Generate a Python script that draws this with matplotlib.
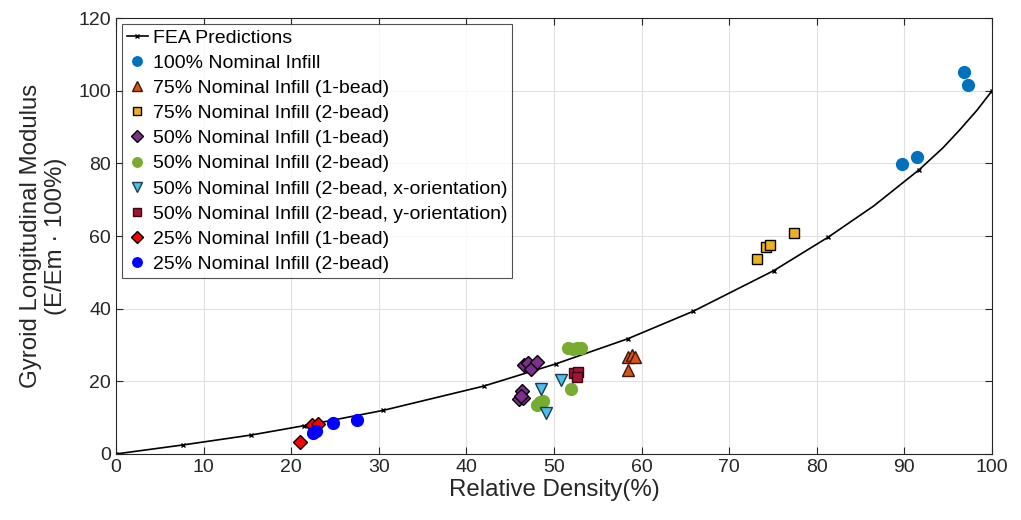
import numpy as np
import matplotlib.pyplot as plt

plt.rcParams['font.family'] = ['Liberation Sans', 'DejaVu Sans']

# FEA prediction curve and the points carrying markers
fea_x = [0, 7.7, 15.4, 21.5, 30.5, 42.0, 50.2, 58.4, 65.9, 75.1, 81.3, 86.5, 91.7, 94.4, 96.3, 98.3, 100]
fea_y = [0, 2.5, 5.2, 7.8, 12.0, 18.7, 24.8, 31.7, 39.3, 50.5, 59.7, 68.3, 78.3, 84.3, 89.2, 94.7, 100]
fea_marks = [0, 1, 2, 3, 4, 5, 6, 7, 8, 9, 10, 12, 16]

inf100_x = [96.8, 97.3, 89.7, 91.4]
inf100_y = [105.3, 101.5, 79.8, 81.9]

inf75_1_x = [58.4, 58.9, 59.3, 58.4]
inf75_1_y = [26.6, 27.2, 26.7, 23.1]

inf75_2_x = [73.2, 74.2, 74.7, 77.4]
inf75_2_y = [53.8, 56.9, 57.5, 60.8]

inf50_1_x = [46.6, 47.0, 47.4, 48.1, 46.4, 46.0, 46.5, 46.2]
inf50_1_y = [24.6, 25.1, 23.5, 25.4, 17.3, 15.1, 15.3, 16.0]

inf50_2_x = [51.6, 52.2, 52.6, 53.1, 51.9, 48.1, 48.4, 48.8]
inf50_2_y = [29.3, 28.8, 29.3, 29.3, 17.9, 13.5, 14.2, 14.6]

inf50_x_x = [48.5, 50.8, 49.1]
inf50_x_y = [18.0, 20.3, 11.2]

inf50_y_x = [52.3, 52.7, 52.6]
inf50_y_y = [22.3, 22.6, 21.3]

inf25_1_x = [21.0, 22.4, 23.1]
inf25_1_y = [3.4, 8.0, 8.2]

inf25_2_x = [22.5, 22.8, 24.8, 27.5]
inf25_2_y = [5.9, 6.3, 8.6, 9.4]

fig = plt.figure(figsize=(10.21, 5.2), dpi=100)
ax = fig.add_axes([0.1136, 0.127, 0.858, 0.838])

ax.plot(fea_x, fea_y, color='black', linewidth=1.2, marker='x', markersize=3,
        markevery=fea_marks, label='FEA Predictions', zorder=2)

ms = 8.5
ax.plot(inf100_x, inf100_y, 'o', color='#0072BD', mec='#0072BD', ms=ms, label='100% Nominal Infill')
ax.plot(inf75_1_x, inf75_1_y, '^', color='#D95319', mec='#3a1a08', ms=ms, label='75% Nominal Infill (1-bead)')
ax.plot(inf75_2_x, inf75_2_y, 's', color='#EDB120', mec='black', ms=7, label='75% Nominal Infill (2-bead)')
ax.plot(inf50_1_x, inf50_1_y, 'D', color='#7E2F8E', mec='black', ms=7.5, label='50% Nominal Infill (1-bead)')
ax.plot(inf50_2_x, inf50_2_y, 'o', color='#77AC30', mec='#77AC30', ms=ms, label='50% Nominal Infill (2-bead)')
ax.plot(inf50_x_x, inf50_x_y, 'v', color='#4DBEEE', mec='#1a3a48', ms=ms, label='50% Nominal Infill (2-bead, x-orientation)')
ax.plot(inf50_y_x, inf50_y_y, 's', color='#A2142F', mec='#3a0810', ms=7, label='50% Nominal Infill (2-bead, y-orientation)')
ax.plot(inf25_1_x, inf25_1_y, 'D', color='red', mec='black', ms=7.5, label='25% Nominal Infill (1-bead)')
ax.plot(inf25_2_x, inf25_2_y, 'o', color='blue', mec='blue', ms=ms, label='25% Nominal Infill (2-bead)')

ax.set_xlim(0, 100)
ax.set_ylim(0, 120)
ax.set_xticks(np.arange(0, 101, 10))
ax.set_yticks(np.arange(0, 121, 20))
ax.grid(True, color='#e0e0e0', linewidth=0.8)
ax.set_axisbelow(True)
ax.tick_params(direction='in', top=True, right=True, labelsize=14, length=5, color='#262626',
               labelcolor='#262626')
for s in ax.spines.values():
    s.set_color('#262626')

ax.set_xlabel('Relative Density(%)', fontsize=17.3, color='#262626', labelpad=2)
ax.set_ylabel('Gyroid Longitudinal Modulus\n(E/Em \u00b7 100%)', fontsize=17.3, color='#262626', labelpad=8)

leg = ax.legend(loc='upper left', fontsize=14, frameon=True, fancybox=False,
                edgecolor='#262626', borderaxespad=0.3, handlelength=1.1,
                handletextpad=0.25, labelspacing=0.39, borderpad=0.25, markerscale=0.8)
leg.get_frame().set_linewidth(0.8)

plt.savefig('out.png', dpi=100)
